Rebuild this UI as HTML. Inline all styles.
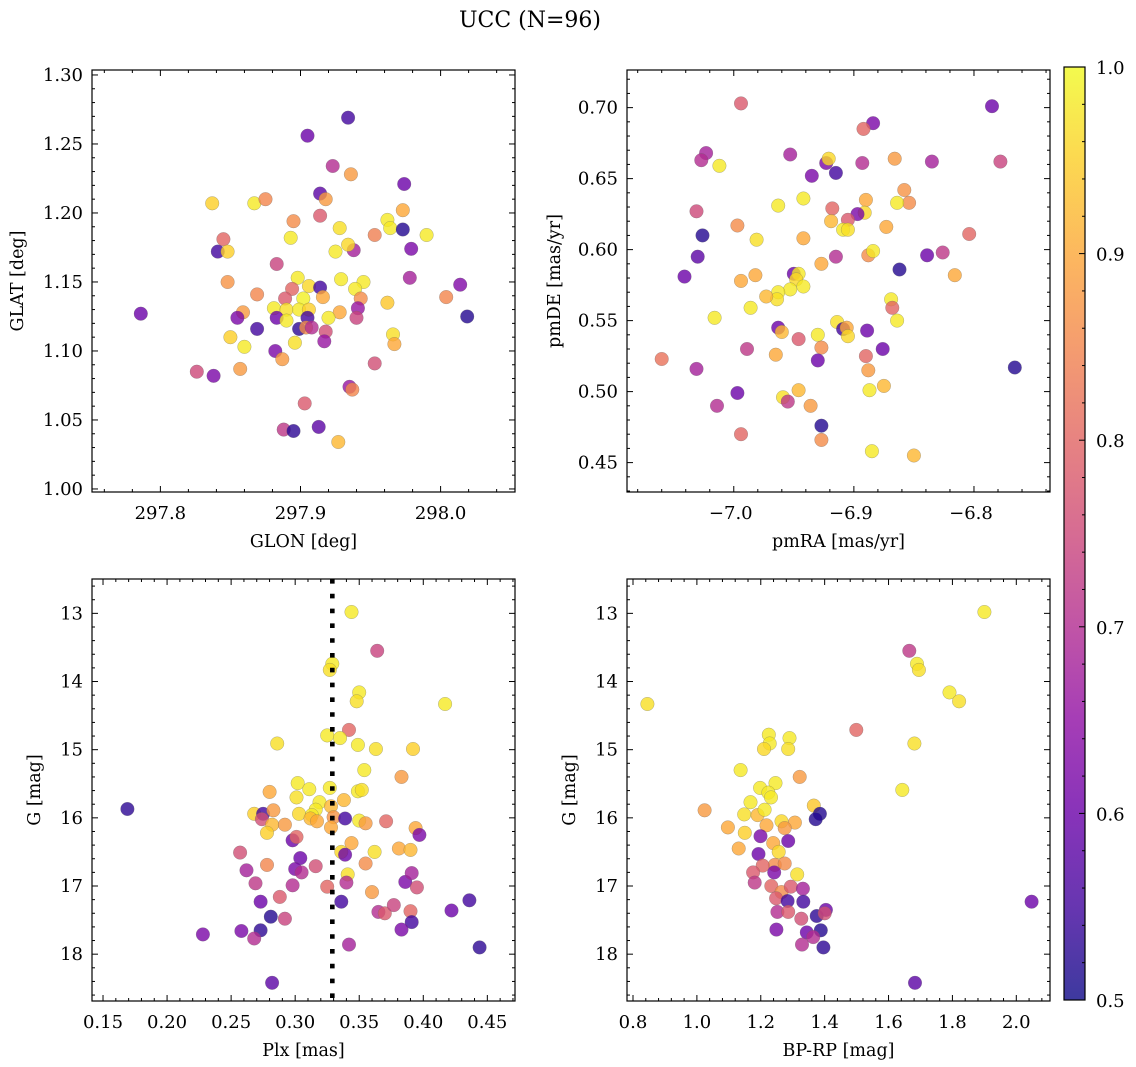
<!DOCTYPE html>
<html><head><meta charset="utf-8">
<style>
html,body{margin:0;padding:0;background:#fff;}
svg{display:block;font-family:"DejaVu Serif","Liberation Serif",serif;}
</style></head>
<body>
<svg id="fig" width="1136" height="1067" viewBox="0 0 1136 1067" xmlns="http://www.w3.org/2000/svg">
<defs>
<linearGradient id="plasma" x1="0" y1="1" x2="0" y2="0">
<stop offset="0" stop-color="#0d0887"/><stop offset="0.1" stop-color="#41049d"/><stop offset="0.2" stop-color="#6a00a8"/><stop offset="0.3" stop-color="#8f0da4"/><stop offset="0.4" stop-color="#b12a90"/><stop offset="0.5" stop-color="#cc4778"/><stop offset="0.6" stop-color="#e16462"/><stop offset="0.7" stop-color="#f2844b"/><stop offset="0.8" stop-color="#fca636"/><stop offset="0.9" stop-color="#fcce25"/><stop offset="1" stop-color="#f0f921"/>
</linearGradient>
</defs>
<text x="530" y="27" font-size="22" text-anchor="middle">UCC (N=96)</text>
</svg>
<script>
// Panel 1: GLON vs GLAT
const p1x=[297.934,297.905,297.923,297.936,297.974,297.914,297.918,297.837,297.867,297.875,297.914,297.973,297.895,297.962,297.964,297.973,297.928,297.990,297.953,297.893,297.845,297.841,297.848,297.979,297.938,297.934,297.925,297.883,297.848,297.978,298.014,297.929,297.945,297.898,297.906,297.914,297.894,297.939,297.943,297.916,297.869,298.004,297.889,297.902,297.786,298.019,297.962,297.941,297.940,297.928,297.881,297.890,297.899,297.906,297.883,297.905,297.890,297.920,297.859,297.855,297.869,297.899,297.904,297.918,297.908,297.917,297.850,297.860,297.896,297.966,297.967,297.882,297.887,297.953,297.826,297.838,297.857,297.935,297.937,297.903,297.888,297.895,297.913,297.927];
const p1y=[1.269,1.256,1.234,1.228,1.221,1.214,1.210,1.207,1.207,1.210,1.198,1.202,1.194,1.195,1.189,1.188,1.189,1.184,1.184,1.182,1.181,1.172,1.172,1.174,1.173,1.177,1.172,1.163,1.150,1.153,1.148,1.152,1.150,1.153,1.147,1.146,1.145,1.145,1.138,1.139,1.141,1.139,1.138,1.138,1.127,1.125,1.135,1.131,1.124,1.128,1.131,1.130,1.130,1.130,1.124,1.124,1.122,1.124,1.128,1.124,1.116,1.116,1.117,1.114,1.117,1.107,1.110,1.103,1.106,1.112,1.105,1.100,1.094,1.091,1.085,1.082,1.087,1.074,1.072,1.062,1.043,1.042,1.045,1.034];
const p1c=[0.55,0.6,0.7,0.88,0.6,0.58,0.88,0.95,0.98,0.85,0.78,0.9,0.86,0.98,0.98,0.52,0.97,0.98,0.84,0.98,0.8,0.55,0.95,0.62,0.68,0.96,0.98,0.74,0.87,0.68,0.63,0.98,0.98,0.98,0.96,0.55,0.8,0.98,0.86,0.9,0.85,0.85,0.78,0.99,0.6,0.52,0.94,0.66,0.74,0.9,0.98,0.97,0.98,0.95,0.6,0.55,0.98,0.98,0.88,0.62,0.55,0.53,0.86,0.76,0.7,0.66,0.95,0.98,0.97,0.97,0.9,0.62,0.88,0.76,0.75,0.62,0.88,0.66,0.85,0.78,0.72,0.53,0.58,0.92];
// Panel 2: pmRA vs pmDE
const p2x=[-6.994,-6.785,-6.884,-6.892,-7.023,-7.027,-7.012,-6.953,-6.923,-6.921,-6.915,-6.935,-6.893,-6.866,-6.835,-6.778,-6.858,-6.854,-6.864,-6.890,-6.891,-6.897,-6.942,-6.963,-6.918,-7.031,-6.919,-6.905,-6.909,-6.905,-6.997,-7.026,-6.981,-6.942,-6.873,-6.804,-7.030,-6.915,-6.888,-6.884,-6.927,-6.839,-6.826,-6.862,-6.816,-7.041,-6.994,-6.982,-6.950,-6.946,-6.948,-6.942,-6.953,-6.963,-6.964,-6.973,-6.986,-7.016,-6.869,-6.868,-6.864,-6.963,-6.960,-6.914,-6.909,-6.906,-6.905,-6.889,-6.946,-6.930,-6.927,-6.989,-6.965,-6.930,-6.890,-6.876,-7.060,-7.031,-6.766,-6.888,-6.997,-6.946,-6.959,-6.955,-6.936,-6.887,-6.875,-7.014,-6.927,-6.994,-6.927,-6.885,-6.850];
const p2y=[0.703,0.701,0.689,0.685,0.668,0.663,0.659,0.667,0.661,0.664,0.654,0.652,0.661,0.664,0.662,0.662,0.642,0.633,0.633,0.635,0.626,0.625,0.636,0.631,0.629,0.627,0.620,0.621,0.614,0.614,0.617,0.610,0.607,0.608,0.616,0.611,0.595,0.595,0.596,0.599,0.590,0.596,0.598,0.586,0.582,0.581,0.578,0.582,0.583,0.583,0.579,0.574,0.572,0.570,0.565,0.567,0.559,0.552,0.565,0.559,0.550,0.545,0.542,0.549,0.544,0.545,0.539,0.543,0.537,0.540,0.531,0.530,0.526,0.522,0.525,0.530,0.523,0.516,0.517,0.515,0.499,0.501,0.496,0.493,0.490,0.501,0.504,0.490,0.476,0.470,0.466,0.458,0.455];
const p2c=[0.78,0.6,0.62,0.8,0.68,0.7,0.98,0.68,0.62,0.96,0.55,0.62,0.7,0.88,0.68,0.74,0.87,0.86,0.98,0.9,0.96,0.62,0.98,0.98,0.8,0.75,0.92,0.78,0.98,0.97,0.86,0.52,0.97,0.9,0.9,0.8,0.58,0.7,0.86,0.98,0.9,0.6,0.72,0.52,0.9,0.6,0.9,0.9,0.6,0.98,0.96,0.98,0.98,0.98,0.97,0.92,0.98,0.98,0.98,0.8,0.98,0.6,0.92,0.97,0.55,0.9,0.96,0.6,0.78,0.98,0.86,0.72,0.9,0.6,0.8,0.6,0.82,0.68,0.52,0.88,0.6,0.92,0.97,0.72,0.88,0.98,0.92,0.7,0.52,0.8,0.86,0.98,0.92];
// Panel 3: Plx vs G
const p3x=[0.344,0.364,0.329,0.327,0.350,0.348,0.417,0.342,0.286,0.325,0.335,0.349,0.363,0.392,0.354,0.383,0.280,0.302,0.311,0.301,0.327,0.349,0.352,0.338,0.319,0.316,0.328,0.169,0.268,0.275,0.283,0.303,0.313,0.312,0.317,0.330,0.328,0.339,0.274,0.282,0.292,0.278,0.350,0.355,0.371,0.394,0.397,0.298,0.301,0.344,0.336,0.339,0.362,0.381,0.390,0.257,0.304,0.278,0.300,0.305,0.316,0.262,0.355,0.341,0.340,0.325,0.269,0.298,0.386,0.391,0.395,0.360,0.336,0.273,0.288,0.281,0.292,0.365,0.370,0.377,0.390,0.391,0.383,0.422,0.436,0.444,0.228,0.258,0.273,0.268,0.342,0.282];
const p3y=[12.98,13.55,13.74,13.83,14.16,14.29,14.33,14.71,14.91,14.79,14.83,14.93,14.99,14.99,15.30,15.40,15.62,15.49,15.58,15.70,15.56,15.61,15.59,15.74,15.77,15.88,15.83,15.87,15.94,15.94,15.89,15.94,15.96,16.01,16.05,15.99,16.14,16.01,16.02,16.10,16.10,16.22,16.04,16.08,16.05,16.15,16.25,16.33,16.28,16.37,16.50,16.54,16.50,16.45,16.47,16.51,16.59,16.69,16.75,16.80,16.71,16.77,16.67,16.83,16.95,17.01,16.96,16.99,16.94,16.81,17.02,17.09,17.23,17.23,17.16,17.45,17.48,17.38,17.40,17.28,17.37,17.53,17.64,17.36,17.21,17.90,17.71,17.66,17.65,17.77,17.86,18.42];
const p3c=[0.98,0.74,0.98,0.97,0.98,0.97,0.98,0.8,0.97,0.98,0.98,0.98,0.97,0.95,0.98,0.88,0.9,0.98,0.98,0.97,0.98,0.98,0.97,0.92,0.98,0.98,0.92,0.53,0.95,0.55,0.88,0.96,0.98,0.92,0.9,0.87,0.9,0.55,0.76,0.92,0.88,0.95,0.98,0.88,0.8,0.9,0.62,0.6,0.8,0.9,0.96,0.6,0.97,0.9,0.92,0.76,0.6,0.85,0.62,0.7,0.76,0.68,0.86,0.97,0.7,0.8,0.72,0.7,0.62,0.68,0.76,0.88,0.55,0.6,0.78,0.52,0.74,0.7,0.78,0.74,0.8,0.55,0.62,0.6,0.55,0.53,0.62,0.62,0.53,0.7,0.68,0.58];
const plxLine=0.329;
// Panel 4: BP-RP vs G
const p4x=[1.900,1.665,1.689,1.695,1.791,1.821,0.845,1.499,1.225,1.228,1.210,1.290,1.286,1.681,1.137,1.322,1.643,1.246,1.198,1.224,1.232,1.168,1.024,1.366,1.385,1.372,1.148,1.190,1.212,1.265,1.307,1.097,1.150,1.218,1.275,1.199,1.286,1.239,1.256,1.131,1.193,1.244,1.275,1.206,1.242,1.176,1.314,1.181,1.233,1.265,1.294,1.332,1.248,1.284,1.333,1.252,1.286,1.327,1.375,1.404,1.400,1.249,1.344,1.388,1.364,1.329,1.396,2.048,1.683];
const p4y=[12.98,13.55,13.74,13.83,14.16,14.29,14.33,14.71,14.78,14.91,14.99,14.83,14.99,14.91,15.30,15.40,15.59,15.49,15.56,15.63,15.70,15.77,15.89,15.82,15.94,16.02,15.95,15.96,15.88,16.05,16.07,16.14,16.22,16.11,16.15,16.27,16.34,16.37,16.50,16.45,16.53,16.69,16.67,16.70,16.80,16.80,16.83,16.95,17.00,17.09,17.01,17.04,17.18,17.22,17.23,17.38,17.38,17.48,17.44,17.35,17.40,17.64,17.68,17.65,17.75,17.86,17.90,17.23,18.42];
const p4c=[0.98,0.72,0.98,0.97,0.98,0.97,0.97,0.8,0.98,0.98,0.96,0.98,0.97,0.97,0.98,0.88,0.98,0.98,0.98,0.98,0.98,0.98,0.88,0.94,0.52,0.52,0.97,0.92,0.98,0.96,0.9,0.9,0.95,0.9,0.88,0.62,0.6,0.9,0.96,0.9,0.6,0.86,0.86,0.8,0.62,0.78,0.97,0.72,0.8,0.86,0.78,0.68,0.78,0.55,0.55,0.7,0.78,0.76,0.53,0.6,0.76,0.62,0.6,0.52,0.7,0.7,0.53,0.6,0.58];
// tick labels
const p1xTicks=[297.8,297.9,298.0];
const p1yTicks=[1.00,1.05,1.10,1.15,1.20,1.25,1.30];
const p2xTicks=[-7.0,-6.9,-6.8];
const p2yTicks=[0.45,0.50,0.55,0.60,0.65,0.70];
const p3xTicks=[0.15,0.20,0.25,0.30,0.35,0.40,0.45];
const gTicks=[13,14,15,16,17,18];
const p4xTicks=[0.8,1.0,1.2,1.4,1.6,1.8,2.0];
const cbTicks=[0.5,0.6,0.7,0.8,0.9,1.0];

const NS="http://www.w3.org/2000/svg";
const svg=document.getElementById('fig');
const TF=18, AF=17.5;
function mk(tag,attrs,parent){const e=document.createElementNS(NS,tag);for(const k in attrs)e.setAttribute(k,attrs[k]);(parent||svg).appendChild(e);return e;}
const stops=[[13,8,135],[65,4,157],[106,0,168],[143,13,164],[177,42,144],[204,71,120],[225,100,98],[242,132,75],[252,166,54],[252,206,37],[240,249,33]];
function plasma(p){let t=Math.max(0,Math.min(1,(p-0.5)/0.5))*10;const i=Math.min(9,Math.floor(t)),f=t-i;const a=stops[i],b=stops[i+1];return 'rgb('+a.map((v,k)=>Math.round(v+(b[k]-v)*f)).join(',')+')';}
function fmt(v,d){return (v<0?'\u2212':'')+Math.abs(v).toFixed(d);}

function panel(cfg){
  const g=mk('g',{});
  
  
  const L=cfg.box[0],T=cfg.box[1],R=cfg.box[2],B=cfg.box[3];
  const sx=v=>L+(v-cfg.xr[0])/(cfg.xr[1]-cfg.xr[0])*(R-L);
  const sy=v=>cfg.inv? T+(v-cfg.yr[0])/(cfg.yr[1]-cfg.yr[0])*(B-T) : B-(v-cfg.yr[0])/(cfg.yr[1]-cfg.yr[0])*(B-T);
  const clip='clip-'+cfg.name;
  const cp=mk('clipPath',{id:clip},g);mk('rect',{x:L,y:T,width:R-L,height:B-T},cp);
  const pts=mk('g',{'clip-path':'url(#'+clip+')'},g);
  
  
  for(let i=0;i<cfg.x.length;i++){
    const c=mk('circle',{cx:sx(cfg.x[i]).toFixed(1),cy:sy(cfg.y[i]).toFixed(1),r:6.8,fill:plasma(cfg.c[i]),'fill-opacity':0.8,stroke:'#666','stroke-opacity':0.5,'stroke-width':0.5},pts);
    
    
  }
  if(cfg.vline!==undefined){
    const l=mk('line',{x1:sx(cfg.vline),x2:sx(cfg.vline),y1:T,y2:B,stroke:'#000','stroke-width':4.6,'stroke-dasharray':'4.6 10.2'},g);
    
    
  }
  const tk=mk('g',{stroke:'#000','stroke-width':1},g);
  for(let v=cfg.xmin0;v<=cfg.xr[1]+1e-9;v+=cfg.xminor){ if(v<cfg.xr[0]-1e-9)continue; const x=sx(v); const maj=Math.abs(v/cfg.xmajor-Math.round(v/cfg.xmajor))<1e-6; const len=maj?6:3;
    mk('line',{x1:x,x2:x,y1:B,y2:B-len},tk);mk('line',{x1:x,x2:x,y1:T,y2:T+len},tk);}
  for(let v=cfg.ymin0;v<=Math.max(cfg.yr[0],cfg.yr[1])+1e-9;v+=cfg.yminor){ const lo=Math.min(cfg.yr[0],cfg.yr[1]); if(v<lo-1e-9)continue; const y=sy(v); const maj=Math.abs(v/cfg.ymajor-Math.round(v/cfg.ymajor))<1e-6; const len=maj?6:3;
    mk('line',{x1:L,x2:L+len,y1:y,y2:y},tk);mk('line',{x1:R,x2:R-len,y1:y,y2:y},tk);}
  const fr=mk('rect',{x:L,y:T,width:R-L,height:B-T,fill:'none',stroke:'#000','stroke-width':1.2},g);
  
  
  cfg.xt.forEach(v=>{const t=mk('text',{x:sx(v)-(v<0?3:0),y:B+27,'font-size':TF,'text-anchor':'middle'},g);t.textContent=fmt(v,cfg.xd);
    
    });
  cfg.yt.forEach(v=>{const t=mk('text',{x:L-9,y:sy(v)+6,'font-size':TF,'text-anchor':'end'},g);t.textContent=fmt(v,cfg.yd);
    
    });
  const xl=mk('text',{x:(L+R)/2,y:B+55,'font-size':AF,'text-anchor':'middle'},g);xl.textContent=cfg.xlabel;
  
  
  const yl=mk('text',{x:cfg.ylx,y:(T+B)/2,'font-size':AF,'text-anchor':'middle',transform:'rotate(-90 '+cfg.ylx+' '+(T+B)/2+')'},g);yl.textContent=cfg.ylabel;
  
  
}
panel({name:'glon-glat-panel',box:[92,70,515,492],xr:[297.7512,298.0531],yr:[0.9978,1.3036],x:p1x,y:p1y,c:p1c,xt:p1xTicks,yt:p1yTicks,xd:1,yd:2,xmin0:297.74,xminor:0.02,xmajor:0.1,ymin0:0.99,yminor:0.01,ymajor:0.05,xlabel:'GLON [deg]',ylabel:'GLAT [deg]',ylx:23});
panel({name:'pm-panel',box:[627,70,1050,492],xr:[-7.0889,-6.7367],yr:[0.4293,0.7265],x:p2x,y:p2y,c:p2c,xt:p2xTicks,yt:p2yTicks,xd:1,yd:2,xmin0:-7.08,xminor:0.02,xmajor:0.1,ymin0:0.43,yminor:0.01,ymajor:0.05,xlabel:'pmRA [mas/yr]',ylabel:'pmDE [mas/yr]',ylx:560});
panel({name:'plx-g-panel',box:[92,579,515,1001],xr:[0.1414,0.4716],yr:[12.496,18.687],inv:true,x:p3x,y:p3y,c:p3c,xt:p3xTicks,yt:gTicks,xd:2,yd:0,xmin0:0.15,xminor:0.01,xmajor:0.05,ymin0:12.6,yminor:0.2,ymajor:1,xlabel:'Plx [mas]',ylabel:'G [mag]',ylx:40,vline:plxLine});
panel({name:'cmd-panel',box:[627,579,1050,1001],xr:[0.7812,2.1055],yr:[12.496,18.687],inv:true,x:p4x,y:p4y,c:p4c,xt:p4xTicks,yt:gTicks,xd:1,yd:0,xmin0:0.8,xminor:0.04,xmajor:0.2,ymin0:12.6,yminor:0.2,ymajor:1,xlabel:'BP-RP [mag]',ylabel:'G [mag]',ylx:575});

// colorbar
const cb=mk('g',{});


const cT=67,cB=1000,cL=1064,cR=1085;
const cy=v=>cB-(v-0.5)/0.5*(cB-cT);
mk('rect',{x:cL,y:cT,width:cR-cL,height:cB-cT,fill:'url(#plasma)','fill-opacity':0.8},cb);
mk('rect',{x:cL,y:cT,width:cR-cL,height:cB-cT,fill:'none',stroke:'#000','stroke-width':1.2},cb);
for(let v=0.5;v<=1.0001;v+=0.02){const maj=Math.abs(v*10-Math.round(v*10))<1e-6;mk('line',{x1:cR,x2:cR-(maj?6:3),y1:cy(v),y2:cy(v),stroke:'#000','stroke-width':1},cb);}
cbTicks.forEach(v=>{const t=mk('text',{x:cR+11,y:cy(v)+7,'font-size':TF},cb);t.textContent=v.toFixed(1);
  
  });
</script>
</body></html>
